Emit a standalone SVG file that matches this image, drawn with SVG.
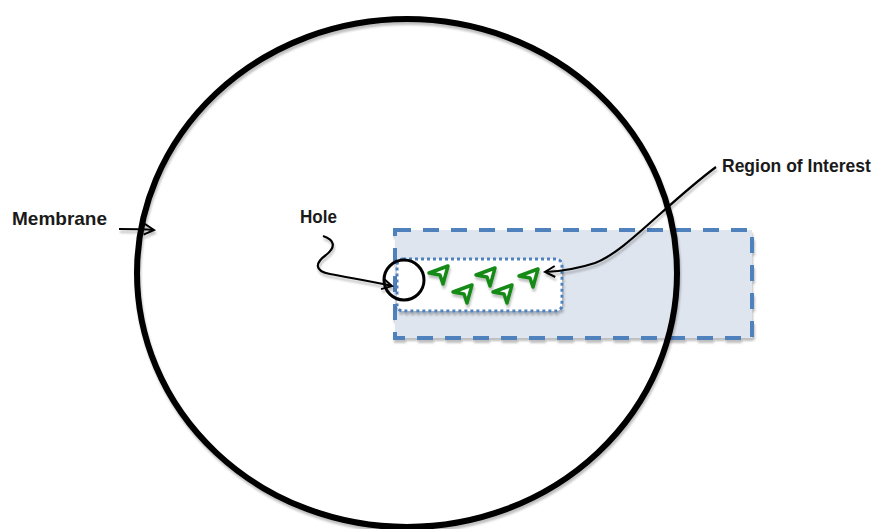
<svg xmlns="http://www.w3.org/2000/svg" width="880" height="529" viewBox="0 0 880 529">
<style>
.lbl{font-family:"Liberation Sans",Arial,sans-serif;font-weight:bold;font-size:19px;fill:#1a1a1a}
.conn{fill:none;stroke:#000;stroke-width:2.2;marker-end:url(#arr)}
.part{fill:#fff;stroke:#178a17;stroke-width:3.5;stroke-linejoin:round}
</style>
<defs>
<filter id="sh" x="-10%" y="-10%" width="130%" height="130%">
<feDropShadow dx="1" dy="3" stdDeviation="1" flood-color="#000" flood-opacity="0.25"/>
</filter>
<marker id="arr" markerWidth="14" markerHeight="14" refX="11" refY="6" orient="auto" markerUnits="userSpaceOnUse">
<path d="M1,0.5 L11,6 L1,11.5" fill="none" stroke="#000" stroke-width="2"/>
</marker>
<path id="g" d="M1,8 L20,1 L15,19 L12,10 Z"/>
</defs>
<g id="roi-box">
<rect x="395" y="230" width="357" height="108" fill="#dfe5ee" stroke="#4f81bd" stroke-width="4" stroke-dasharray="16 12" filter="url(#sh)"/>
</g>
<g id="membrane">
<ellipse cx="407" cy="273" rx="270" ry="254" fill="none" stroke="#000" stroke-width="6" filter="url(#sh)"/>
</g>
<g id="roi">
<rect x="397" y="259" width="165" height="52" rx="6" fill="#fff" stroke="#4f81bd" stroke-width="3" stroke-dasharray="3 3" filter="url(#sh)"/>
</g>
<g id="particles" filter="url(#sh)">
<use href="#g" class="part" x="428" y="265"/>
<use href="#g" class="part" x="452" y="284"/>
<use href="#g" class="part" x="475" y="267"/>
<use href="#g" class="part" x="492" y="284"/>
<use href="#g" class="part" x="518" y="268"/>
</g>
<g id="hole">
<circle cx="404" cy="280" r="20" fill="none" stroke="#000" stroke-width="3"/>
</g>
<g id="connectors" filter="url(#sh)">
<path class="conn" d="M119,229 C130,229 142,229 154,230"/>
<path class="conn" d="M323,236 C335,240 336,247 326,255 C315,263 314,271 330,274 C350,278 370,281 392,286"/>
<path class="conn" d="M716,167 C665,205 625,252 595,263 C580,268 565,271 545,272"/>
</g>
<g id="labels">
<text class="lbl" x="12" y="225" textLength="95" lengthAdjust="spacingAndGlyphs">Membrane</text>
<text class="lbl" x="300" y="223" textLength="37" lengthAdjust="spacingAndGlyphs">Hole</text>
<text class="lbl" x="722" y="172" style="font-size:17.5px">Region of Interest</text>
</g>
</svg>
